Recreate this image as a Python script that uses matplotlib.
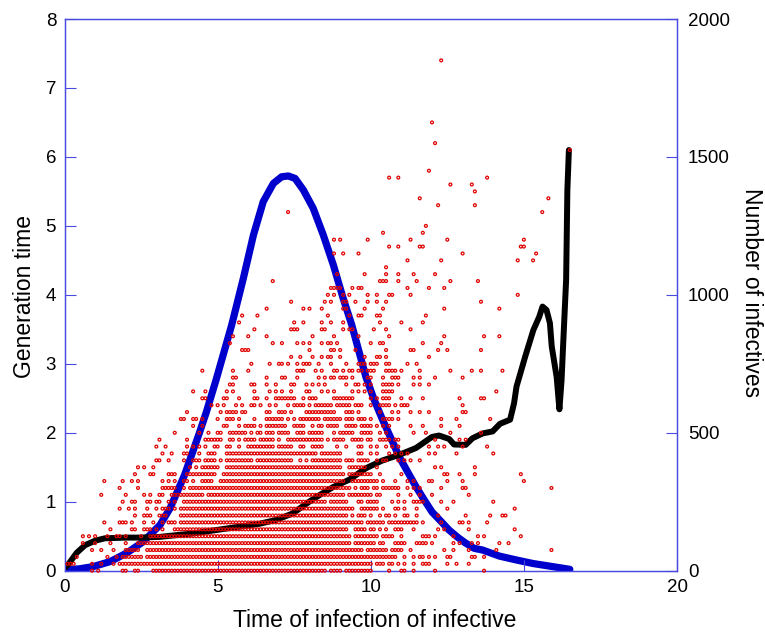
import matplotlib
matplotlib.use('Agg')
import matplotlib.pyplot as plt

plt.rcParams['font.family'] = ['Liberation Sans', 'DejaVu Sans']

#mean generation time against time of infection (black curve)
mean_x = [0.03, 0.12, 0.4, 0.67, 1.0, 1.32, 2.03, 2.45, 3.1, 4.19, 5.27, 6.36, 6.9, 7.45, 7.99,
          8.21, 8.76, 9.3, 9.84, 10.39, 10.93, 11.48, 12.0, 12.23, 12.56, 12.72, 13.1, 13.32,
          13.65, 13.98, 14.22, 14.55, 14.68, 14.76, 15.04, 15.31, 15.5, 15.61, 15.74, 15.85,
          15.91, 16.07, 16.16, 16.23, 16.29, 16.38, 16.42, 16.47]
mean_gen = [0.05, 0.09, 0.26, 0.37, 0.435, 0.47, 0.48, 0.48, 0.49, 0.54, 0.61, 0.68, 0.735, 0.83, 1.0,
            1.065, 1.21, 1.32, 1.485, 1.6, 1.68, 1.78, 1.94, 1.96, 1.91, 1.83, 1.825, 1.92,
            1.99, 2.02, 2.13, 2.19, 2.43, 2.67, 3.1, 3.49, 3.68, 3.83, 3.78, 3.59,
            3.25, 2.81, 2.34, 2.76, 3.35, 4.22, 5.52, 6.1]

#number of infectives (blue curve, right axis)
inf_x = [0.03, 0.5, 0.94, 1.49, 2.03, 2.57, 3.12, 3.45, 3.92, 4.4, 4.62, 4.95, 5.46, 5.84, 6.17, 6.49,
         6.82, 7.09, 7.31, 7.53, 7.8, 8.12, 8.45, 8.78, 9.1, 9.38, 9.84, 10.11, 10.39, 10.66, 10.93,
         11.2, 11.48, 11.75, 12.0, 12.3, 12.56, 12.84, 13.1, 13.38, 13.65, 14.2, 14.75, 15.3, 16.5]
inf_n = [3, 7, 15, 33, 64, 105, 166, 227, 347, 498, 571, 692, 891, 1060, 1217, 1338,
         1404, 1428, 1431, 1422, 1380, 1314, 1217, 1108, 987, 891, 703, 620, 546, 480, 413,
         359, 304, 256, 213, 178, 147, 121, 100, 81, 75, 53, 39, 26, 5]

#each infector as a dot: generation time levels (in 0.1 steps) and, per level,
#the times of infection in tenths ("a-b" is a run of touching dots)
gen_levels = [0, 1, 2, 3, 4, 5, 6, 7, 8, 9, 10, 11, 12, 13, 14, 15, 16, 17, 18, 19,
              20, 21, 22, 23, 24, 25, 26, 27, 28, 29, 30, 31, 32, 33, 34, 35, 36, 37, 38, 39,
              40, 41, 42, 43, 44, 45, 46, 47, 48, 49, 50, 52, 53, 54, 55, 56, 57, 58, 61, 62, 65, 74]
dot_times = [
    "9 11 19 20 23 24 29-85 87-90 92-100 106 110 111 114 121 137",
    "1 2 3 9 12 16 18-100 102-104 106 107 109 111 114 117-119 125 128 132",
    "4 14 17 19-25 27-108 111 114 116 117 119 121 125 126 133 134 137",
    "9 12 16 20-24 27-97 99-105 107-110 113 124 127 132 141 159",
    "6 10 15 20 24-93 95-101 103 104 108-111 115-118 120 127 129 133 135 142 145",
    "6 8 10 14 17 18 20 25 28-93 95-102 104-107 110 117-119 121 127 135 137 149",
    "15 22 23 26-28 30 32 36-92 95-98 100 101 103 105 108-110 114 122 124 132 147",
    "13 18-20 22 26 29 32 34-36 38-97 99-104 106-115 117 123 129 130 132 138",
    "23 26-28 31-33 38-92 94 96-98 100 103 105 106 108 111 112 115 122 131 139 143 144",
    "18 21 23 27 30 32-34 36 38-94 97-102 104 108 109 111 115 125 147",
    "19 22 23 27 28 30 31 34 36 39-85 87-92 96 97 99-102 107 109 111 114-117 123 127 140",
    "12 20 26 28 31 32 35-45 47-91 93-100 102 103 109 113 116 120 132",
    "18 24 32-36 39 41-93 95 97-99 101 102 104-109 112 114 116 123 130 131 159",
    "13 19 22 24 32 34 36 39 40 42 45-48 51-91 94-102 104 108 112 114 119 120 125 130 150",
    "23 28 29 34-36 40-49 52-91 93-100 103 110 124 125 129 134 149",
    "24 26 29 41 43 45-50 53-90 93-98 102 121 123 134",
    "30 31 34 39 42-44 46-49 51 53-61 63-74 77 79 81-90 92-94 96-99 102 104 105 109 111 113 116",
    "32 35 39 40 44 47-49 53-82 84-90 96 97 100 102 106 108 110 112 119 121 128 140",
    "30 33 40 42 44 46 49 50 53 54 57 60-68 70-74 77 78 81-84 89 92 96 97 100 102 105 107 109 119 122 124 130 138",
    "31 40 46-51 54 55 57 59-62 64-68 70 73-84 86 88-91 94-97 99 100 103-106 108 109 121 129 131",
    "36 44 47 50 51 54-59 61 63 64 66-68 70-73 76-78 80-84 88 90-94 97-100 103 105 114 118 126 136",
    "42 45 52 53 57 59-62 64 66-72 75-78 81 83 84 86-89 92-95 97-100 102 104 106 113 117 123 129",
    "38 39 42 43 45 50 53-55 57 62 66-71 73 75 77-83 85-90 92-94 96-98 100 104-107 109 123 128 139",
    "40 51 53-56 58 59 66 67 70-72 74 79-88 92-94 96 103 107 109 113 116 119 130 131",
    "48 50 52 56 58 61 62 64 67 69 73 75-78 80 82-87 89-93 95-97 100 103-106 108 110-112 130",
    "45 46 52 53 57 62 63 66 69-75 78 80-82 88-94 100 102 104-106 110 113 117 129 136 137",
    "42 46 53 55 62 67 69 71 74 79 80 84 86 88 94 96 98 100 104-107 141",
    "54 55 61 62 66 69 74 75 79 81 83 85 92 95 96 98 100 104-107 109 114 116 119",
    "55 56 66 71 72 76 83 85 87 88 90-92 94 99 100 104 107-109 114 116 121 130",
    "45 55 60 76-78 82 84 88 89 91 93 94 96 97 99-101 105-108 110 116 126 133 136 143",
    "61 67 70 71 73 76 78-80 83 87 92 96-98 100-102 105 106 112 115",
    "74 77 81 84 86 87 90 98 102 103 105 119",
    "58-60 80 87 88 90 95 105 113 114 122 125 136",
    "54 68 71 76 78 80 84 86 87 89 100 103 104 117 123",
    "55 60 66 81 88 96 106 124 137 142",
    "62 74-76 84 85 91 93 94 101 105 113",
    "57 75 78 84 87 91 103 110 117",
    "58 63 86 93 96 97 102 103 118",
    "66 78 80 84 91 92 98 104 124 142",
    "74 85 87 91 92 95 99 102 105 136",
    "86 88 91 93 99 102 106 107 113 148",
    "87-90 94 96 97 112 119 124",
    "68 103-105 109 115 126 135",
    "89 98 105 109 114 121",
    "105",
    "112 123 148 153",
    "88 91 96 130 154",
    "106 109 116 117 149 150",
    "88 90 99 113 125 150",
    "104 117",
    "118",
    "73 156",
    "122 134",
    "116 158",
    "134",
    "126 133",
    "106 109 138",
    "119",
    "165",
    "121",
    "120",
    "123",
]

x_ticks = [0, 5, 10, 15, 20]
gen_ticks = [0, 1, 2, 3, 4, 5, 6, 7, 8]
inf_ticks = [0, 500, 1000, 1500, 2000]

#expand the run notation into x,y lists
def expand_dots(levels, times):
	xs = []
	ys = []
	for level, row in zip(levels, times):
		for item in row.split():
			parts = item.split('-')
			for t in range(int(parts[0]), int(parts[-1]) + 1):
				xs.append(t / 10.0)
				ys.append(level / 10.0)
	return xs, ys

dot_x, dot_y = expand_dots(gen_levels, dot_times)

W, H = 765, 633
fig = plt.figure(figsize=(W / 100.0, H / 100.0), dpi=100)
ax = fig.add_axes([64.5 / W, 1 - 570.7 / H, 612.5 / W, 551.7 / H])
ax2 = ax.twinx()

axis_blue = '#4a4ae0'
ax.set_zorder(ax2.get_zorder() + 1)
ax.patch.set_visible(False)

ax2.plot(inf_x, inf_n, color='#0000cc', lw=5.2, solid_capstyle='round', solid_joinstyle='round')
ax.plot(mean_x, mean_gen, color='black', lw=4.3, solid_capstyle='round', solid_joinstyle='round', zorder=2)
ax.scatter(dot_x, dot_y, s=4.2, facecolors='none', edgecolors='#e00000', linewidths=0.9, zorder=3, clip_on=False)

ax.set_xlim(0, 20)
ax.set_ylim(0, 8)
ax2.set_ylim(0, 2000)
ax.set_xticks(x_ticks)
ax.set_yticks(gen_ticks)
ax2.set_yticks(inf_ticks)
ax.tick_params(axis='both', direction='in', length=8, width=0.8, color=axis_blue, labelsize=13.5)
ax.tick_params(axis='x', pad=6)
ax.tick_params(axis='y', pad=6)
ax2.tick_params(axis='y', direction='in', length=8, width=0.8, color=axis_blue, labelsize=13.5, pad=8)

for a in [ax, ax2]:
	for s in a.spines.values():
		s.set_color(axis_blue)
		s.set_linewidth(0.9)

ax.set_xlabel('Time of infection of infective', fontsize=16.5)
ax.xaxis.set_label_coords(0.506, -0.091)
ax.xaxis.label.set_va('center')
ax.set_ylabel('Generation time', fontsize=16.5)
ax.yaxis.set_label_coords(-0.066, 0.497)
ax.yaxis.label.set_va('center')
ax2.set_ylabel('Number of infectives', fontsize=16.5, rotation=-90, va='center')
ax2.yaxis.set_label_coords(1.122, 0.505)

fig.savefig('out.png', dpi=100)
